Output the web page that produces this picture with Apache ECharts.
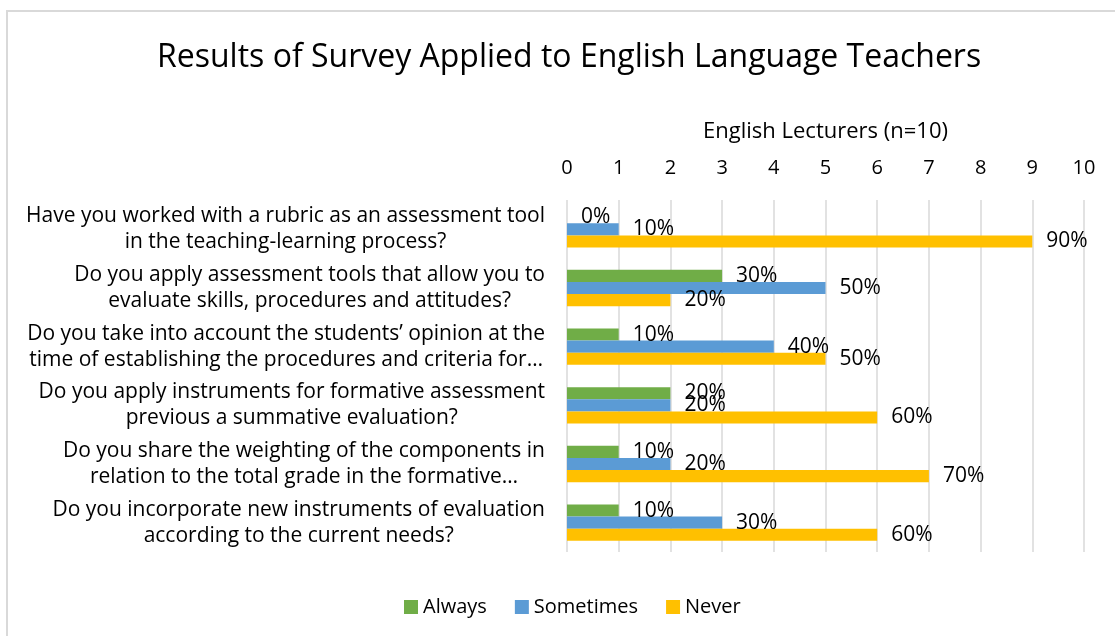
<!DOCTYPE html>
<html>
<head>
<meta charset="utf-8">
<title>Results of Survey Applied to English Language Teachers</title>
<script src="https://cdn.jsdelivr.net/npm/echarts@6/dist/echarts.min.js"></script>
<style>
    html, body { margin: 0; padding: 0; overflow: hidden; background: #fff; }
    #chart { width: 1115px; height: 636px; }
    #frame { position: absolute; left: 6px; top: 10px; width: 1200px; height: 700px;
             border: 2px solid #d9d9d9; pointer-events: none; }
</style>
</head>
<body>
<div id="chart"></div>
<div id="frame"></div>
<script>
// questions (already wrapped like in the original)
var questions = [
    'Have you worked with a rubric as an assessment tool\nin the teaching-learning process?',
    'Do you apply assessment tools that allow you to\nevaluate skills, procedures and attitudes?',
    'Do you take into account the students\u2019 opinion at the\ntime of establishing the procedures and criteria for\u2026',
    'Do you apply instruments for formative assessment\nprevious a summative evaluation?',
    'Do you share the weighting of the components in\nrelation to the total grade in the formative\u2026',
    'Do you incorporate new instruments of evaluation\naccording to the current needs?'
];
// number of lecturers (n=10)
var always = [0, 3, 1, 2, 1, 1];
var sometimes = [1, 5, 4, 2, 2, 3];
var never = [9, 2, 5, 6, 7, 6];
var xTicks = [0, 10, 1];

var font = 'Open Sans';
var chart = echarts.init(document.getElementById('chart'));

function pct(p) {
    return p.value * 10 + '%';
}

function barLabel() {
    return {
        show: true,
        position: 'right',
        distance: 14,
        formatter: pct,
        fontFamily: font,
        fontSize: 21,
        color: '#000'
    };
}

var option = {
    textStyle: { fontFamily: font },
    title: {
        text: 'Results of Survey Applied to English Language Teachers',
        left: 152,
        top: 37,
        textStyle: { fontFamily: font, fontSize: 32, fontWeight: 'normal', color: '#000' }
    },
    legend: {
        bottom: 14,
        left: 399,
        itemWidth: 14,
        itemHeight: 14,
        itemGap: 28,
        icon: 'rect',
        textStyle: { fontFamily: font, fontSize: 20, color: '#000' },
        data: ['Always', 'Sometimes', 'Never']
    },
    grid: { left: 567, right: 31, top: 200, bottom: 84, containLabel: false },
    xAxis: {
        type: 'value',
        position: 'top',
        min: xTicks[0],
        max: xTicks[1],
        interval: xTicks[2],
        name: 'English Lecturers (n=10)',
        nameLocation: 'middle',
        nameGap: 57,
        nameTextStyle: { fontFamily: font, fontSize: 22, color: '#000' },
        axisLine: { show: false },
        axisTick: { show: false },
        axisLabel: { fontFamily: font, fontSize: 20, color: '#000', margin: 22 },
        splitLine: { lineStyle: { color: '#d9d9d9', width: 1.5 } }
    },
    yAxis: {
        type: 'category',
        inverse: true,
        data: questions,
        axisLine: { show: false },
        axisTick: { show: false },
        axisLabel: {
            margin: 22,
            align: 'right',
            lineHeight: 26,
            formatter: function (v) {
                return v.split('\n').map(function (l) { return '{c|' + l + '}'; }).join('\n');
            },
            rich: {
                c: { align: 'center', fontFamily: font, fontSize: 21, lineHeight: 26, color: '#000' }
            }
        }
    },
    series: [
        {
            name: 'Always',
            type: 'bar',
            data: always,
            barGap: 0,
            barCategoryGap: '38%',
            itemStyle: { color: '#70ad47' },
            label: barLabel()
        },
        {
            name: 'Sometimes',
            type: 'bar',
            data: sometimes,
            itemStyle: { color: '#5b9bd5' },
            label: barLabel()
        },
        {
            name: 'Never',
            type: 'bar',
            data: never,
            itemStyle: { color: '#ffc000' },
            label: barLabel()
        }
    ]
};

chart.setOption(option);
window.onresize = function () {
    chart.resize();
};
</script>
</body>
</html>
